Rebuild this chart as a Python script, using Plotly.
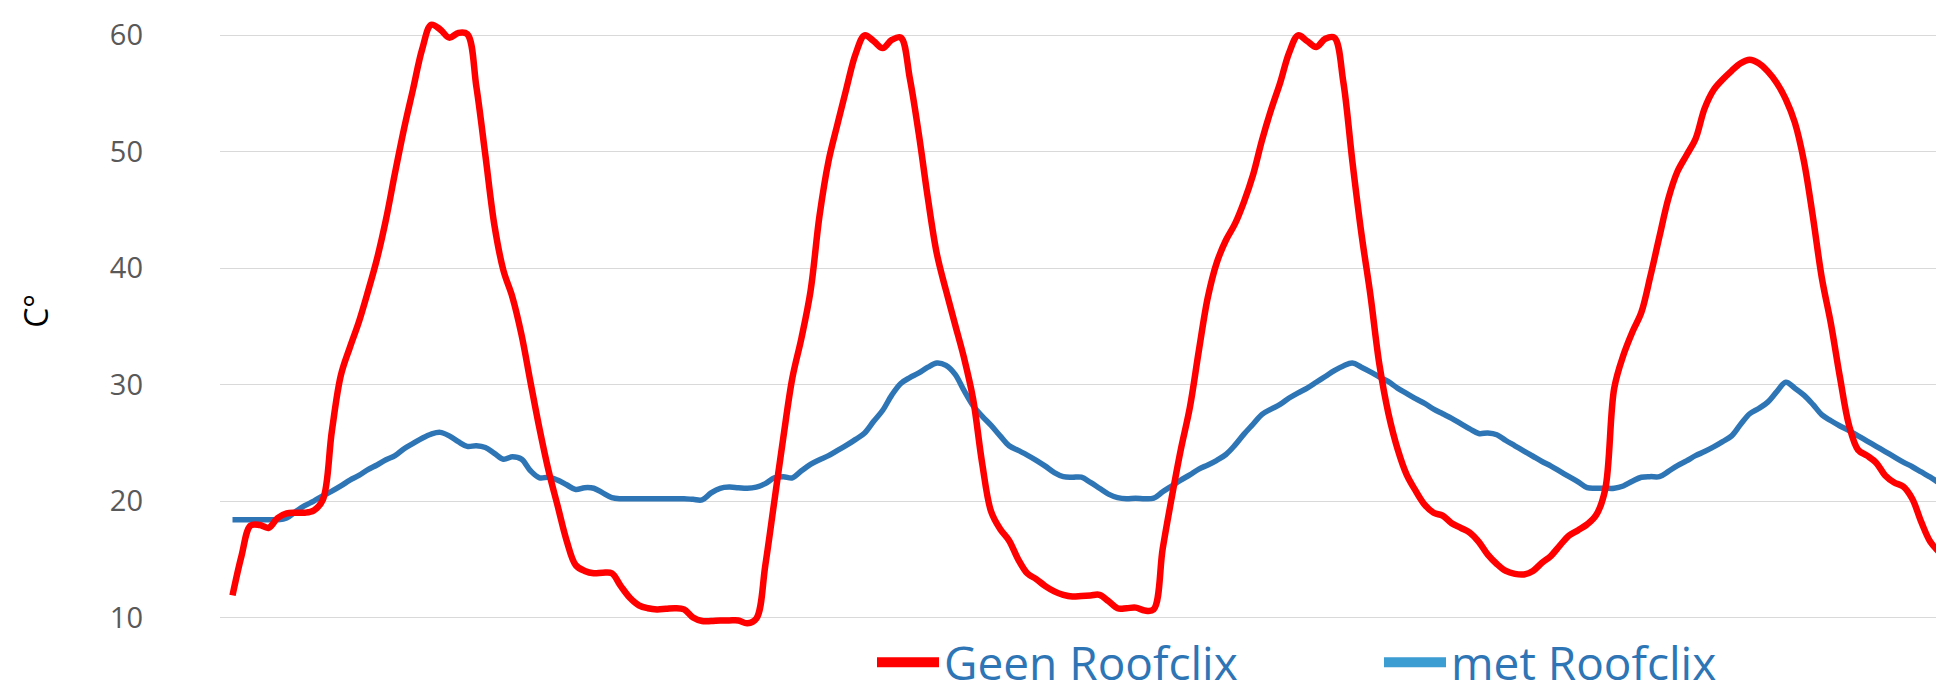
import plotly.graph_objects as go

# time axis: half-hour readings over ~4 days (hours)
hours = [i * 0.5 for i in range(191)]

geen_roofclix = [
    11.9, 15.3, 17.9, 17.95, 17.7, 18.55, 18.95, 19.0, 19.0, 19.2,
    20.1, 26.0, 30.8, 33.2, 35.4, 38.0, 40.8, 44.2, 48.2, 52.0,
    55.4, 58.8, 60.9, 60.5, 59.8, 60.2, 60.1, 55.6, 49.7, 43.7,
    39.8, 37.5, 34.3, 30.2, 26.2, 22.6, 19.6, 16.6, 14.5, 14.0,
    13.8, 13.85, 13.8, 12.7, 11.7, 11.05, 10.8, 10.7, 10.75, 10.8,
    10.7, 10.0, 9.7, 9.7, 9.75, 9.75, 9.75, 9.5, 9.9, 14.5,
    20.0, 25.5, 30.6, 34.0, 38.0, 44.5, 49.2, 52.4, 55.5, 58.4,
    60.0, 59.5, 58.9, 59.6, 59.8, 56.3, 51.5, 46.0, 41.2, 38.1,
    35.2, 32.3, 28.8, 23.3, 19.1, 17.6, 16.6, 15.0, 13.8, 13.3,
    12.7, 12.25, 11.95, 11.8, 11.85, 11.9, 11.95, 11.4, 10.8, 10.8,
    10.85, 10.6, 10.7, 15.9, 20.3, 24.4, 28.0, 32.9, 37.5, 40.5,
    42.4, 43.8, 45.7, 48.0, 51.0, 53.6, 55.9, 58.5, 60.0, 59.5,
    59.0, 59.7, 59.8, 56.0, 49.2, 43.0, 37.7, 31.7, 27.5, 24.5,
    22.3, 20.9, 19.7, 19.0, 18.75, 18.1, 17.7, 17.3, 16.5, 15.4,
    14.6, 14.0, 13.75, 13.7, 14.0, 14.7, 15.3, 16.2, 17.05, 17.5,
    18.0, 18.8, 21.0, 29.7, 32.5, 34.5, 36.2, 39.3, 42.7, 46.0,
    48.3, 49.7, 51.1, 53.7, 55.3, 56.2, 56.95, 57.6, 57.9, 57.6,
    56.9, 55.9, 54.5, 52.5, 49.2, 44.4, 39.1, 35.2, 30.6, 26.5,
    24.4, 23.9, 23.3, 22.2, 21.6, 21.25, 20.2, 18.2, 16.5, 15.6,
    14.8,
]

met_roofclix = [
    18.4, 18.4, 18.4, 18.4, 18.4, 18.4, 18.55, 19.1, 19.6, 20.0,
    20.45, 20.85, 21.3, 21.8, 22.2, 22.7, 23.1, 23.55, 23.9, 24.5,
    24.95, 25.4, 25.75, 25.9, 25.6, 25.1, 24.7, 24.75, 24.6, 24.1,
    23.6, 23.8, 23.6, 22.6, 22.0, 22.05, 21.8, 21.4, 21.0, 21.15,
    21.1, 20.7, 20.3, 20.2, 20.2, 20.2, 20.2, 20.2, 20.2, 20.2,
    20.2, 20.15, 20.1, 20.7, 21.1, 21.2, 21.15, 21.1, 21.2, 21.5,
    22.0, 22.1, 22.0, 22.6, 23.15, 23.55, 23.9, 24.35, 24.8, 25.3,
    25.85, 26.85, 27.8, 29.1, 30.1, 30.6, 31.0, 31.5, 31.85, 31.65,
    30.9, 29.5, 28.2, 27.3, 26.5, 25.6, 24.75, 24.35, 23.95, 23.5,
    23.0, 22.45, 22.1, 22.05, 22.05, 21.6, 21.1, 20.6, 20.3, 20.2,
    20.25, 20.2, 20.25, 20.8, 21.3, 21.8, 22.25, 22.75, 23.1, 23.5,
    24.0, 24.8, 25.75, 26.6, 27.45, 27.9, 28.3, 28.85, 29.3, 29.7,
    30.2, 30.7, 31.2, 31.6, 31.85, 31.5, 31.1, 30.65, 30.25, 29.7,
    29.25, 28.8, 28.4, 27.9, 27.5, 27.1, 26.65, 26.2, 25.8, 25.85,
    25.7, 25.2, 24.75, 24.3, 23.85, 23.4, 23.0, 22.55, 22.1, 21.65,
    21.15, 21.1, 21.1, 21.1, 21.3, 21.7, 22.05, 22.1, 22.1, 22.55,
    23.05, 23.45, 23.9, 24.25, 24.65, 25.1, 25.6, 26.6, 27.5, 27.95,
    28.5, 29.4, 30.2, 29.7, 29.1, 28.3, 27.4, 26.9, 26.45, 26.05,
    25.6, 25.15, 24.7, 24.25, 23.8, 23.35, 22.95, 22.5, 22.05, 21.55,
    21.1,
]

series_names = ["Geen Roofclix", "met Roofclix"]
y_ticks = [10, 20, 30, 40, 50, 60]
y_title = "C°"

RED = "#FF0000"
BLUE = "#2E75B6"
BLUE_LEGEND = "#3C9DD3"
TEXT_BLUE = "#2E75B6"

fig = go.Figure()

fig.add_trace(go.Scatter(
    x=hours, y=met_roofclix, mode="lines", name=series_names[1],
    line=dict(color=BLUE, width=5.5, shape="spline", smoothing=1.0),
    showlegend=False, hoverinfo="skip",
))
fig.add_trace(go.Scatter(
    x=hours, y=geen_roofclix, mode="lines", name=series_names[0],
    line=dict(color=RED, width=6.5, shape="spline", smoothing=1.0),
    showlegend=False, hoverinfo="skip",
))

# legend entries
fig.add_trace(go.Scatter(
    x=[None], y=[None], mode="lines", name=series_names[0],
    line=dict(color=RED, width=12), legend="legend",
))
fig.add_trace(go.Scatter(
    x=[None], y=[None], mode="lines", name=series_names[1],
    line=dict(color=BLUE_LEGEND, width=12), legend="legend2",
))

L, R, T, B = 212, 0, 4, 47
W, H = 1944, 691
plot_w = W - L - R
plot_h = H - T - B

def px_x(px):
    return (px - L) / plot_w

def px_y(py):
    return (H - B - py) / plot_h

legend_font = dict(family="Open Sans", size=46, color=TEXT_BLUE)

fig.update_layout(
    width=W, height=H,
    margin=dict(l=L, r=R, t=T, b=B),
    paper_bgcolor="white", plot_bgcolor="white",
    font=dict(family="Open Sans"),
    showlegend=True,
    legend=dict(
        x=px_x(864), y=px_y(672), xanchor="left", yanchor="middle",
        orientation="h", font=legend_font, bgcolor="rgba(0,0,0,0)",
        itemwidth=62,
    ),
    legend2=dict(
        x=px_x(1371), y=px_y(672), xanchor="left", yanchor="middle",
        orientation="h", font=legend_font, bgcolor="rgba(0,0,0,0)",
        itemwidth=62,
    ),
    xaxis=dict(
        range=[-0.692, 95.2], showgrid=False, zeroline=False,
        showticklabels=False, showline=False, ticks="",
    ),
    yaxis=dict(
        range=[8.5, 62], tickvals=y_ticks, ticktext=[str(v) for v in y_ticks],
        showgrid=True, gridcolor="#D9D9D9", gridwidth=1.3,
        zeroline=False, showline=False, ticks="",
        tickfont=dict(family="Open Sans", size=29, color="#595959"),
        ticklabelstandoff=76,
    ),
    annotations=[dict(
        text=y_title, textangle=-90, xref="paper", yref="paper",
        x=px_x(28), y=px_y(311), xanchor="center", yanchor="middle",
        showarrow=False, font=dict(family="Open Sans", size=32, color="black"),
    )],
)

fig.write_html("out.html")
